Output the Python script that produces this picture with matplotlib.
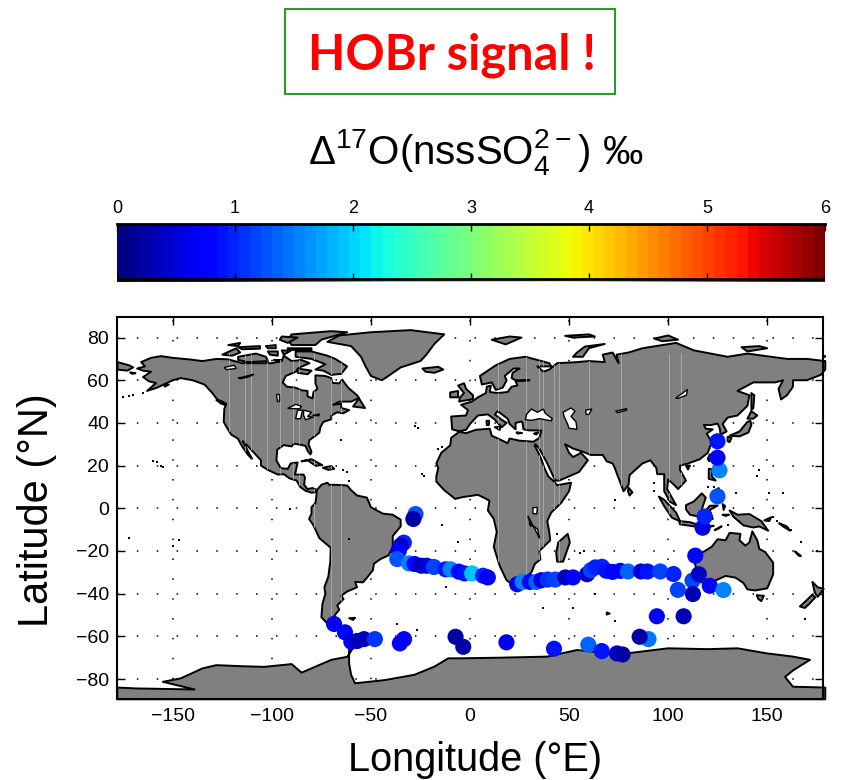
import matplotlib
matplotlib.use('Agg')
import matplotlib.pyplot as plt
from matplotlib.cm import ScalarMappable
from matplotlib.colors import Normalize
from matplotlib.patches import Polygon, PathPatch, Rectangle
from matplotlib.path import Path
import numpy as np

plt.rcParams['font.family'] = ['Liberation Sans', 'DejaVu Sans']
plt.rcParams['mathtext.fontset'] = 'custom'
plt.rcParams['mathtext.rm'] = 'Liberation Sans'
plt.rcParams['mathtext.default'] = 'rm'

# Sample positions (deg) and Delta17O values, in drawing order
lons = [-27.5, -28.6, -33.4, -35.0, -35.9, -36.7, -30.8, -28.0, -24.6, -21.9, -18.2, -12.3, -9.8, -5.6, -2.8, 1.1, 6.6, 9.0,
        -68.6, -63.1, -59.9, -56.9, -53.5, -48.0, -35.4, -33.3, -7.3, -3.4,
        23.8, 26.6, 30.2, 33.5, 36.0, 39.2, 43.0, 48.1, 52.0,
        59.1, 61.0, 63.3, 66.6, 68.8, 72.0, 75.9, 79.7, 86.3, 89.6, 96.0, 102.7,
        104.9, 112.3, 115.5, 112.5, 113.7, 121.0, 127.9,
        117.4, 118.4, 124.9, 125.9, 124.9, 124.9,
        18.4, 42.4, 59.7, 66.5, 74.2, 77.0, 90.1, 85.6, 94.3, 107.8]
lats = [-2.7, -5.0, -16.1, -17.5, -19.9, -23.8, -25.8, -26.1, -26.9, -26.9, -27.5, -28.6, -28.6, -29.7, -30.5, -30.5, -31.6, -32.4,
        -54.2, -58.1, -62.5, -62.2, -61.3, -61.3, -63.3, -61.3, -60.2, -64.9,
        -35.6, -34.5, -34.5, -34.5, -33.7, -33.4, -33.4, -32.4, -32.4,
        -30.9, -29.0, -27.7, -27.4, -29.3, -29.8, -29.3, -29.6, -29.6, -29.6, -29.6, -30.8,
        -38.2, -33.9, -30.9, -40.2, -22.2, -36.3, -38.3,
        -9.1, -3.9, 5.6, 17.8, 23.7, 31.4,
        -62.8, -65.8, -63.9, -66.9, -68.0, -68.5, -61.3, -60.2, -50.6, -50.6]
vals = [1.25, 0.25, 0.95, 0.35, 0.8, 1.3, 1.55, 0.8, 0.3, 0.55, 1.2, 0.9, 1.5, 0.8, 0.85, 1.95, 0.95, 0.7,
        0.65, 0.8, 0.7, 0.3, 0.35, 1.1, 0.8, 0.7, 0.25, 0.2,
        0.65, 1.5, 0.8, 1.35, 0.55, 1.1, 1.2, 0.35, 0.75,
        0.4, 1.2, 1.0, 1.0, 0.9, 0.8, 0.7, 1.4, 0.5, 0.9, 1.15, 1.0,
        1.2, 1.2, 0.4, 0.3, 0.8, 0.8, 1.5,
        0.55, 1.0, 1.3, 1.5, 0.8, 0.9,
        0.65, 0.9, 1.4, 0.9, 0.4, 0.25, 1.45, 0.2, 0.75, 0.3]

xtick_vals = [-150, -100, -50, 0, 50, 100, 150]
ytick_vals = [-80, -60, -40, -20, 0, 20, 40, 60, 80]
cbar_ticks = [0, 1, 2, 3, 4, 5, 6]

# Coastlines, rough lon/lat
north_america = [(-168, 65.5), (-164, 66.5), (-166, 68.5), (-161, 70.5), (-156, 71.3), (-150, 70.5), (-141, 69.7), (-135, 69), (-128, 70), (-122, 69.8), (-115, 68), (-108, 68), (-100, 68), (-95, 69), (-94, 71.5), (-90, 69), (-85, 69.5), (-81, 68), (-86, 66), (-88, 64), (-93, 62), (-94.5, 59), (-92.5, 57), (-88, 56.5), (-85, 55.3), (-82, 55), (-82, 52.5), (-79.5, 51.5), (-79, 54.5), (-77, 56), (-78, 58.5), (-78, 62.3), (-73, 62), (-70, 61), (-69.5, 58.8), (-66, 58.5), (-64.5, 60.3), (-61.5, 56.5), (-57, 53), (-56, 51.7), (-60, 50), (-66, 50), (-69, 48.5), (-65, 49), (-65, 47), (-61, 46), (-64, 44.5), (-67, 45), (-70, 43.5), (-70, 41.7), (-74, 40.5), (-75.5, 38), (-76, 35.5), (-78, 34), (-81, 32), (-81.5, 30), (-80, 26.5), (-80.5, 25.2), (-82, 27), (-83, 29.2), (-85, 29.7), (-89, 30.3), (-90, 29), (-94, 29.6), (-97.3, 27.5), (-97.7, 22.5), (-95.5, 18.8), (-92, 18.5), (-90.5, 21), (-87, 21.5), (-88, 17), (-88.5, 15.8), (-84, 15.8), (-83.3, 14.5), (-83.7, 11), (-82, 9), (-79.5, 9.5), (-77.3, 8.6), (-78, 7.5), (-80, 7.3), (-83, 8.2), (-85.7, 10), (-87.5, 13), (-91, 14), (-94, 16), (-97, 15.8), (-102, 18), (-105.5, 20), (-105.5, 22.5), (-109, 26), (-112.5, 29.5), (-114.7, 31.5), (-112.5, 27.5), (-110, 23.2), (-112, 25), (-115, 29), (-117.2, 32.7), (-120.5, 34.5), (-122.5, 37.5), (-124.3, 40.5), (-124, 46.5), (-123, 49), (-127.5, 51), (-130.5, 54.5), (-134, 58), (-140, 60), (-146, 61), (-150, 60), (-153, 58.7), (-158, 56.5), (-163, 55), (-158.5, 58.7), (-162, 59.5), (-165, 61.5), (-161, 64), (-165, 64.5)]
south_america = [(-77.3, 8.6), (-75, 11), (-72, 12), (-71, 11), (-68, 11), (-62, 10.7), (-60, 8.5), (-57, 6), (-52, 5), (-50, 0.5), (-44, -2.5), (-39, -3), (-35, -5.3), (-35, -8.5), (-39, -13), (-39, -18), (-41, -22), (-45, -23.7), (-48.5, -26), (-49, -29), (-52, -32.5), (-54, -34.7), (-58, -34.5), (-57, -37), (-62, -39), (-65, -41), (-63.8, -42.5), (-67, -45.5), (-66, -47.5), (-69, -51), (-68.5, -52.5), (-65.5, -55), (-69, -55.5), (-72, -54), (-75, -51), (-74.5, -45), (-73, -40), (-73.5, -37), (-71.5, -32), (-70.5, -25), (-70.3, -18.5), (-76, -14), (-79, -8), (-81.2, -5), (-80, -2.5), (-80, 0.5), (-78, 2.5), (-77.5, 6)]
afro_eurasia = [(-5.5, 36.1), (-9, 37), (-9.5, 43), (-2, 43.5), (-1, 46), (-4.5, 48.5), (1, 50), (4, 52), (8, 54), (8.5, 57), (10.5, 57.5), (10, 54.5), (14, 54), (19, 54.5), (21, 57), (24, 57.5), (23, 59.5), (30, 60), (23, 60), (21, 61), (21.5, 63.5), (25, 65.5), (22, 65.5), (17.5, 62), (18.5, 60), (16.5, 56.5), (13, 55.5), (11, 59), (6, 58), (5, 62), (13, 67), (20, 70), (28, 71), (40, 68), (41, 66.5), (34, 66.5), (37, 64), (40, 65), (44, 68), (54, 68.5), (60, 69), (68, 68.5), (67, 72), (72, 73), (75, 68), (74, 72), (80, 73), (87, 75), (104, 77.5), (113, 74), (130, 71), (140, 72.5), (160, 70), (170, 70), (179.3, 69), (179.3, 65), (177, 62.5), (170, 60), (163, 60), (163, 57), (160, 53), (157, 51), (155.7, 56), (158, 60), (154, 59), (143, 59), (135, 55), (141, 53), (140, 48), (135, 43.5), (130, 42.5), (127.5, 39.5), (129.5, 36), (126.5, 34.5), (126, 37.5), (125, 39.7), (121.5, 39), (118, 39), (119, 37.3), (122.5, 37), (119.5, 35), (122, 31), (120, 26), (116, 23), (110, 21), (106, 20), (106, 18), (109, 13), (105, 9), (103, 11), (100, 13.5), (99.5, 9), (104, 1.5), (101, 3), (98, 8), (98, 16), (94.5, 16), (94, 19), (91, 22.5), (87, 21), (80.5, 15.5), (80, 11), (77.5, 8), (73, 19), (72, 21), (69, 22), (67, 25), (61, 25), (57, 26.5), (52, 28), (48, 30), (50, 26), (52, 24), (56, 26), (59.5, 22.5), (55, 17), (45, 13), (43, 13), (39, 21), (35, 28), (33, 30), (32.5, 29.5), (34, 27), (36, 23), (37.5, 19), (39.5, 15), (43, 12), (44, 10.8), (51, 12), (50, 8), (46, 2.5), (41, -2), (39, -6), (40, -11), (40.5, -15), (35, -20), (35.5, -24), (32.8, -26), (31, -30), (26, -34), (20, -34.8), (18.3, -33.5), (15, -27), (12, -18), (13.5, -11), (12, -5), (9, -1), (9.8, 3.5), (8, 4.5), (4, 6.3), (-4, 5.2), (-7.5, 4.4), (-13, 8.5), (-17, 12.5), (-17, 15), (-16, 19), (-17, 21), (-14.5, 26), (-10, 29.5), (-9.5, 33), (-5.5, 35.8), (-2, 35.2), (3, 36.8), (10, 37.3), (11, 34), (15, 32.3), (19, 30.5), (20, 32.7), (25, 31.7), (32, 31.2), (35, 33), (36, 36.5), (30, 36.5), (27, 37), (26.5, 40), (26, 40.7), (23, 40), (23, 37), (20, 39.5), (19, 42), (14, 45.5), (12.5, 44), (16, 41.5), (18.5, 40), (16, 38), (12, 42), (9, 44), (4, 43.5), (0, 39.5), (-2, 36.8)]
australia = [(114, -22), (113.5, -26), (115.5, -32), (115, -34.3), (118, -35), (123.5, -34), (129, -31.7), (134, -32.5), (138, -35), (140, -38), (144, -38.5), (150, -37.5), (153, -31), (153, -25.5), (149, -20.5), (146, -19), (145, -15), (142.5, -10.8), (141, -16), (139, -17.5), (136, -15), (136.5, -12), (131, -11.5), (129, -15), (125, -14.5), (122, -18), (118, -20.3)]
antarctica = [(-178, -84), (-168.6, -84.4), (-139, -84.9), (-155, -81.3), (-146, -79.7), (-135, -75), (-128, -73.5), (-115, -74), (-104, -74.3), (-90, -73), (-85, -77), (-75, -73), (-70, -71), (-62, -69.6), (-58, -64), (-61, -65), (-61, -72.7), (-60, -78), (-58, -82), (-43, -80.5), (-28, -78), (-18, -74.2), (-11, -70.3), (-4.8, -70.3), (15, -70), (39, -69.5), (54, -66.4), (71, -68), (79, -68), (100, -65.6), (120, -66), (135, -65.6), (150, -68), (163, -69.5), (171.6, -71), (163, -76), (159, -79), (163, -83.6), (179.3, -84), (179.3, -89.5), (-178, -89.5)]
greenland = [(-72, 78), (-66, 81), (-50, 82.5), (-30, 83.5), (-13, 81.5), (-18, 77), (-22, 72), (-25, 69), (-35, 66), (-42, 61.5), (-44.5, 60), (-50, 62), (-53, 67), (-55, 71), (-60, 76)]
baffin = [(-80, 73.5), (-72, 71.5), (-68, 70), (-62, 66.5), (-65, 63), (-70, 62.5), (-74, 64.5), (-78, 65), (-73, 67.5), (-80, 70), (-88, 71), (-88, 73.5)]
victoria = [(-117, 71), (-108, 72.5), (-103, 71), (-102, 69), (-112, 68.5), (-117, 69.5)]
banks = [(-125, 72), (-118, 75), (-116, 73), (-120, 71.5)]
ellesmere = [(-90, 76.5), (-78, 76.5), (-75, 79), (-62, 82.5), (-70, 83), (-90, 81.5), (-92, 79)]
devon = [(-92, 75), (-80, 75), (-80, 74), (-92, 74.3)]
melville = [(-117, 75.5), (-106, 76), (-106, 74.8), (-115, 74.5)]
axel = [(-95, 80.5), (-87, 80), (-92, 77.5), (-96, 79)]
bathurst = [(-103, 76), (-98, 76.5), (-98, 75), (-102, 75)]
patrick = [(-122, 76.5), (-116, 77.5), (-117, 76)]
somerset = [(-95, 74), (-90.5, 73.8), (-94, 72)]
prince_wales = [(-102, 73.5), (-97, 73.5), (-97, 71.5), (-101, 72)]
king_william = [(-99, 69.5), (-95, 69.5), (-96, 68.5)]
southampton = [(-87, 65.5), (-80, 64.5), (-82, 62.8), (-87, 63.5)]
newfoundland = [(-59, 47.7), (-56, 51.5), (-53, 47)]
iceland = [(-24, 65.5), (-16, 66.3), (-13.5, 65), (-18, 63.5), (-22.5, 64)]
chukotka = [(-177.9, 68.5), (-172, 67), (-170, 66), (-173, 64.5), (-177.9, 65)]
st_lawrence = [(-171.5, 63.7), (-168.8, 63.3), (-170.5, 63)]
kodiak = [(-154.5, 58), (-152, 58), (-154, 57)]
vancouver = [(-128, 50.7), (-125, 50), (-123.5, 48.4), (-125.5, 49)]
cuba = [(-85, 22), (-80, 23), (-74.5, 20.2), (-78, 20), (-82, 22.5)]
hispaniola = [(-74.3, 19), (-70, 19.8), (-68.5, 18.5), (-71.5, 18)]
britain = [(-5.5, 50), (1.5, 51.2), (1.5, 53), (-2, 56), (-3, 58.6), (-6, 57.5), (-3, 54), (-5, 52)]
ireland = [(-10, 52), (-6, 52), (-6, 55), (-10, 54.3)]
svalbard = [(11, 79), (20, 80.5), (26, 80), (18, 76.8)]
franz_josef = [(48, 80.8), (60, 81.5), (63, 80.5), (52, 80)]
novaya = [(52, 71), (57, 71), (60, 75), (68, 77), (58, 75.8), (54, 73)]
severnaya = [(93, 79.5), (100, 81), (105, 79), (97, 78.3)]
new_siberian = [(137, 75.5), (146, 76), (150, 75), (140, 73.5)]
wrangel = [(178, 71.5), (179.3, 71.5), (179.3, 70.8)]
sicily = [(12.5, 38), (15.5, 38.2), (15, 36.7)]
sardinia = [(8.3, 41), (9.7, 41), (9.5, 39), (8.5, 39)]
crete = [(23.5, 35.6), (26.3, 35.3), (24, 35)]
cyprus = [(32.3, 35), (34.5, 35.6), (33.5, 34.6)]
madagascar = [(49.3, -12), (50.4, -16), (47, -25), (44, -25), (43.5, -21), (44.5, -16)]
sri_lanka = [(80, 9.7), (82, 7.5), (80.5, 6), (79.7, 8)]
sumatra = [(95.3, 5.5), (98, 4), (104, -2), (106, -6), (102, -4.5), (98, 1)]
java = [(105.5, -6), (111, -6.5), (114.5, -7.5), (114, -8.6), (106, -7.5)]
flores = [(116, -8.3), (123, -8.2), (120, -9)]
timor = [(123.5, -10.2), (127, -8.4), (125, -9.7)]
borneo = [(109, 1.5), (113, 3.2), (117, 7), (119, 5), (117.5, 1), (116, -4), (111, -3), (109, -0.5)]
sulawesi = [(119.5, -5.5), (119, -1), (121, 1.2), (125, 1.3), (121, -0.8), (122.5, -5)]
halmahera = [(127.5, 2), (128.8, 1), (128, -0.8)]
seram = [(127.5, -3), (130.8, -3), (129, -3.6)]
luzon = [(120.5, 18.5), (122.3, 18.3), (122, 15), (124, 13), (120.5, 13.8)]
mindanao = [(122, 7), (125.5, 9.5), (126.5, 7), (125, 5.7)]
new_guinea = [(131, -1), (135, -3), (141, -2.7), (147, -6), (150.5, -10.5), (146, -8.5), (143, -9), (138, -8), (133, -4)]
new_britain = [(148.5, -5.7), (152, -4.2), (151, -6)]
solomons = [(156, -7), (160, -8.5), (161.5, -10.5), (158, -8.5)]
honshu = [(131, 34), (136, 36), (140, 40.5), (141.5, 41), (142, 39), (140.5, 35.5), (136, 33.7)]
hokkaido = [(140, 42), (142, 45.5), (145, 43.5), (143, 42)]
kyushu = [(130, 33.5), (132, 33), (131, 31), (130, 31.5)]
sakhalin = [(142, 54), (143.5, 53), (143, 47), (142, 46), (142, 50)]
taiwan = [(121, 25.2), (122, 25), (120.8, 22), (120, 23.2)]
hainan = [(109, 20), (111, 20), (110, 18.2)]
tasmania = [(144.7, -40.7), (148.3, -41), (147, -43.5), (145.5, -42.5)]
nz_north = [(172.8, -34.5), (175.5, -37), (178.5, -37.7), (175.5, -41.5), (174, -39.5)]
nz_south = [(172.7, -40.5), (174.3, -41.7), (171, -45), (169, -46.7), (166.5, -46), (170, -43)]
new_caledonia = [(164, -20.2), (167, -22.3), (166, -22.3)]
falklands = [(-61, -51.5), (-58, -51.3), (-59, -52.3)]
kerguelen = [(69, -48.8), (70.5, -49.3), (69, -49.8)]
land_shapes = [north_america, south_america, afro_eurasia, australia, antarctica, greenland, baffin, victoria, banks,
               ellesmere, devon, melville, axel, bathurst, patrick, somerset, prince_wales, king_william, southampton,
               newfoundland, iceland, chukotka, st_lawrence, kodiak, vancouver, cuba, hispaniola, britain, ireland,
               svalbard, franz_josef, novaya, severnaya, new_siberian, wrangel, sicily, sardinia, crete, cyprus,
               madagascar, sri_lanka, sumatra, java, flores, timor, borneo, sulawesi, halmahera, seram, luzon, mindanao,
               new_guinea, new_britain, solomons, honshu, hokkaido, kyushu, sakhalin, taiwan, hainan, tasmania,
               nz_north, nz_south, new_caledonia, falklands, kerguelen]

# Inland water
black_sea = [(28, 41.5), (28.5, 44), (31, 46.5), (34, 45), (37, 46.5), (38, 44.5), (41.5, 42), (41, 41), (35, 42), (31, 41.2)]
caspian = [(47, 45), (51, 47), (53, 45.5), (51, 43), (53.5, 40.5), (54, 37), (50, 37.5), (49, 40), (47.5, 43)]
aral = [(58.5, 46), (61.5, 46.5), (60, 44), (58.5, 44)]
superior = [(-92, 46.8), (-88, 48.7), (-85, 47.8), (-86, 46.6)]
michigan = [(-88, 42), (-87, 46), (-84.5, 46), (-85.5, 42)]
huron_erie = [(-84, 46), (-80, 45), (-82, 43), (-79, 42.7), (-83, 41.5), (-84, 43.5)]
ontario = [(-79.5, 43.5), (-76, 44.2), (-76.3, 43.4)]
winnipeg = [(-98, 53.7), (-96.5, 53.7), (-96.5, 50.5), (-97.5, 50.5)]
great_bear = [(-124, 66), (-119, 67), (-118, 65.5), (-123, 65)]
great_slave = [(-117, 61), (-109, 62.8), (-112, 61.5), (-116, 60.7)]
baikal = [(103.8, 51.6), (109.8, 55.7), (109.2, 53), (105, 51.5)]
balkhash = [(73.5, 45.5), (79, 46.7), (79, 46), (74.5, 44.8)]
victoria_lake = [(31.7, 0.3), (34, 0.4), (33.7, -2.6), (31.8, -2.5)]
tanganyika_malawi = [(29.2, -3.5), (30.8, -8.5), (29.8, -7), (34.2, -9.8), (35, -14), (34, -12)]
water_shapes = [black_sea, caspian, aral, superior, michigan, huron_erie, ontario, winnipeg, great_bear, great_slave,
                baikal, balkhash, victoria_lake, tanganyika_malawi]

# Tiny islands that only show up as black specks
speck_lon = [-156, -158, -155, -160, -175, -170, -165, -172, -91, -28, -26, -16, -14, -24, -23, -61, -61, -62, -64, -65, -37, -27, -12, -6, -14, 44, 55.5, 57.5, 73, 93, 93, 145, 146, 151, 158, 167, 160, 162, 178, 175, -150, -172, -147, 73, 169, 37, 52, 63, 134, 128, 130, 136, 120, 123, 155, 153]
speck_lat = [20, 21.5, 19.5, 22, 52, 53, 54, 52.5, -0.5, 38.5, 37.8, 28, 28.8, 16, 15, -14.5, 13, 17, 18, 32, -54, -57, -37, -16, -8, -12, -21, -20, 4, 12, 8, 15, 18, 7, 7, -16, -9, -10, -18, -20, -17.5, -14, -15, -53, -52, -46.7, -46.5, -40, 7, -3, -8, -6, 10, 10, -6, -4]

# Faint vertical artefacts in the land fill
streak_lon = [-121.4, -113.6, -110.6, -102.2, -95.8, -89.1, -86.1, -78.7, -70.3, -64.9,
              14, 28.3, 34.7, 36.9, 42.2, 45.1, 59.9, 76, 100.2, 106.6]

cmap = plt.get_cmap('jet', 64)
norm = Normalize(vmin=0, vmax=6)
W, H = 841, 780


def px_axes(x0, y0, x1, y1):
    # rectangle given in image pixels, y downwards
    return [x0 / W, 1 - y1 / H, (x1 - x0) / W, (y1 - y0) / H]


fig = plt.figure(figsize=(W / 100, H / 100), dpi=100)

# Green box with the message
fig.add_artist(Rectangle((285 / W, 1 - 94 / H), 330 / W, 85 / H, transform=fig.transFigure,
                         facecolor='white', edgecolor='#2e9a2e', linewidth=1.5))
fig.text(451.5 / W, 1 - 55 / H, 'HOBr signal !', color='#ff0000', fontsize=35, fontweight='bold',
         family='Lato', ha='center', va='center')

# Colour bar title
fig.text(476 / W, 1 - 152 / H, r'$\Delta^{17}$O(nssSO$_4^{2-}$) ‰', fontsize=29, ha='center', va='center')

# Colour bar
cax = fig.add_axes(px_axes(117, 224, 825, 282))
cb = fig.colorbar(ScalarMappable(norm=norm, cmap=cmap), cax=cax, orientation='horizontal', ticks=cbar_ticks)
cb.outline.set_visible(False)
cax.xaxis.set_ticks_position('top')
cax.tick_params(axis='x', direction='in', length=5, width=1, labelsize=13, pad=5)
cax.axhline(1.0, color='black', lw=2, clip_on=False, zorder=5)
cax.axhline(3 / 58, color='black', lw=2, zorder=5)
cax.vlines(cbar_ticks, 3 / 58, 0.15, color='black', lw=1, zorder=5)

# Map
ax = fig.add_axes(px_axes(117.3, 317.3, 822.7, 699.3))
ax.set_xlim(-178, 178)
ax.set_ylim(-89.5, 89.5)
ax.set_xticks(xtick_vals)
ax.set_yticks(ytick_vals)
ax.set_xticklabels([str(v).replace('-', '\u2212') for v in xtick_vals])
ax.set_yticklabels([str(v).replace('-', '\u2212') for v in ytick_vals])
ax.tick_params(direction='in', top=True, right=True, length=6, width=1, labelsize=14, pad=6)
ax.grid(True, color='black', linewidth=1.1, linestyle=(0, (1, 12)))
ax.set_axisbelow(True)
for sp in ax.spines.values():
    sp.set_linewidth(1.5)
    sp.set_zorder(6)

for shape in land_shapes:
    ax.add_patch(Polygon(shape, closed=True, facecolor='#808080', edgecolor='black', linewidth=1.4,
                         joinstyle='round', zorder=2, clip_on=False))
for shape in water_shapes:
    ax.add_patch(Polygon(shape, closed=True, facecolor='white', edgecolor='black', linewidth=1.0, zorder=3))

land_path = Path.make_compound_path(*[Path(list(s) + [s[0]], closed=True) for s in land_shapes])
streaks = ax.vlines(streak_lon, -56, 73, color='#a8a8a8', linewidth=0.7, zorder=2.5)
streaks.set_clip_path(PathPatch(land_path, transform=ax.transData))

ax.scatter(speck_lon, speck_lat, s=3, marker='s', color='black', linewidths=0, zorder=3)
ax.scatter(lons, lats, c=vals, cmap=cmap, norm=norm, s=135, linewidths=0, zorder=4)

fig.text(475 / W, 1 - 760 / H, 'Longitude (°E)', fontsize=28.6, ha='center', va='center')
fig.text(37 / W, 1 - 510 / H, 'Latitude (°N)', fontsize=30, rotation=90, ha='center', va='center')

fig.savefig('out.png', dpi=100)
